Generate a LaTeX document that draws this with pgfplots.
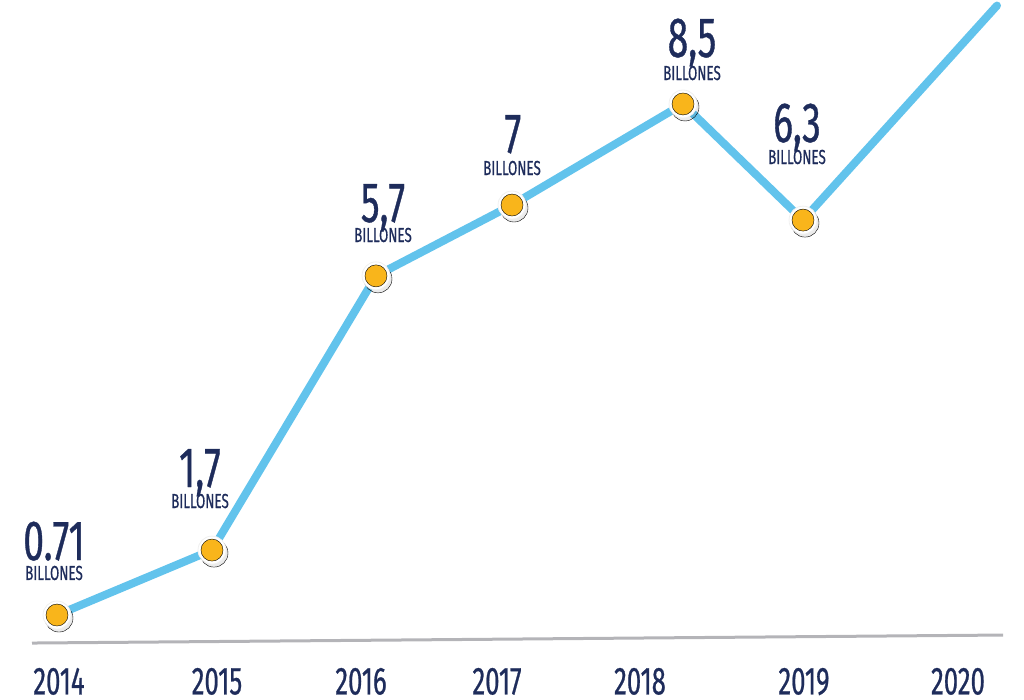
\documentclass[border=0pt]{standalone}
\usepackage{pgfplots}
\pgfplotsset{compat=1.18}
\usepackage{fontspec}
\setmainfont{Fira Sans}[FakeStretch=0.66, FakeBold=0.6]
\definecolor{lineblue}{HTML}{62C3EC}
\definecolor{dotorange}{HTML}{F9B51B}
\definecolor{navy}{HTML}{1E2C5B}
\definecolor{basegray}{HTML}{B4B4B8}
\begin{document}
\begin{tikzpicture}[
  num/.style={text=navy, font=\fontsize{56.6}{60}\selectfont, anchor=base, inner sep=0pt},
  bil/.style={text=navy, font=\fontsize{20.3}{22}\selectfont, anchor=base, inner sep=0pt},
  yr/.style={text=navy, font=\fontsize{39}{42}\selectfont, anchor=base, inner sep=0pt}]
\begin{axis}[scale only axis, width=1024pt, height=699pt,
  xmin=0, xmax=1024, ymin=-0.570, ymax=10.085, hide axis, clip=false]
\coordinate (BL) at (rel axis cs:0,0);
\coordinate (TR) at (rel axis cs:1,1);
\draw[basegray, line width=3pt] (axis cs:32,0.283) -- (axis cs:1003,0.405);
\addplot[lineblue, line width=8pt, line cap=round, line join=round]
  coordinates {(57,0.71)(212,1.70)(376,5.88)(512,6.96)(683,8.50)(803,6.73)(997,10.0)};
% shadow
\addplot[only marks, mark=*, mark size=14pt, mark options={draw=none, fill=black, fill opacity=0.08, xshift=2pt, yshift=-3pt}]
  coordinates {(57,0.71)(212,1.70)(376,5.88)(512,6.96)(683,8.50)(803,6.73)};
% ring
\addplot[only marks, mark=*, mark size=14pt, mark options={draw=gray!12, line width=0.8pt, fill=white}]
  coordinates {(57,0.71)(212,1.70)(376,5.88)(512,6.96)(683,8.50)(803,6.73)};
% dot
\addplot[only marks, mark=*, mark size=11pt, mark options={draw=none, fill=dotorange}]
  coordinates {(57,0.71)(212,1.70)(376,5.88)(512,6.96)(683,8.50)(803,6.73)};
% value labels
\node[num] at (axis cs:54,1.548) {0.71};
\node[bil] at (axis cs:54,1.244) {BILLONES};
\node[num] at (axis cs:200,2.661) {1,7};
\node[bil] at (axis cs:200,2.341) {BILLONES};
\node[num] at (axis cs:383,6.701) {5,7};
\node[bil] at (axis cs:383,6.396) {BILLONES};
\node[num] at (axis cs:513,7.753) {7};
\node[bil] at (axis cs:512,7.417) {BILLONES};
\node[num] at (axis cs:692,9.216) {8,5};
\node[bil] at (axis cs:692,8.865) {BILLONES};
\node[num] at (axis cs:797,7.920) {6,3};
\node[bil] at (axis cs:797,7.585) {BILLONES};
% years
\node[yr] at (axis cs:59,-0.50) {2014};
\node[yr] at (axis cs:217,-0.50) {2015};
\node[yr] at (axis cs:361,-0.50) {2016};
\node[yr] at (axis cs:497,-0.50) {2017};
\node[yr] at (axis cs:640,-0.50) {2018};
\node[yr] at (axis cs:804,-0.50) {2019};
\node[yr] at (axis cs:958,-0.50) {2020};
\end{axis}
\pgfresetboundingbox
\useasboundingbox (BL) rectangle (TR);
\end{tikzpicture}
\end{document}
